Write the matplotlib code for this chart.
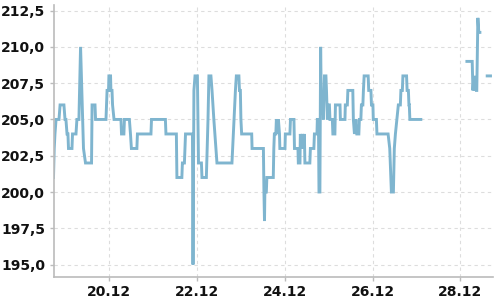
import matplotlib
matplotlib.use("Agg")
import matplotlib.pyplot as plt
import numpy as np
import datetime as dt

# hours since 18.12 00:00, and price values (None = gap in data)
hours = [17.5, 17.9, 18.3, 18.9, 20.5, 21.1, 23.2, 23.8, 24.3, 24.9, 25.4, 25.7,
         27.6, 27.9, 29.8, 30.3, 31.4, 32.3, 33.9, 35.0, 38.3, 38.6, 40.2, 40.5,
         46.2, 46.5, 46.8, 47.6, 47.8, 48.7, 48.9, 49.5, 49.8, 50.6, 54.4, 54.7,
         56.0, 56.3, 59.0, 59.6, 60.1, 63.1, 63.4, 70.8, 71.1, 78.7, 79.0, 84.7,
         85.0, 87.7, 88.0, 89.1, 89.4, 89.7, 93.5, 93.8, 94.3, 94.9, 96.2, 96.8,
         98.4, 98.7, 101.1, 102.0, 102.5, 103.6, 104.2, 105.2, 106.9, 115.1, 117.0, 117.5,
         118.9, 119.2, 119.7, 120.0, 120.4, 125.9, 126.1, 132.3, 132.6, 132.9, 133.1, 133.9,
         134.2, 137.7, 138.0, 138.3, 139.1, 139.4, 140.0, 140.5, 141.1, 141.3, 144.1, 144.3,
         146.8, 147.1, 149.0, 149.3, 151.2, 151.4, 152.3, 152.5, 153.1, 153.6, 154.2, 154.7,
         155.0, 157.7, 158.0, 159.9, 160.2, 161.6, 161.8, 162.4, 162.7, 163.2, 163.6, 164.0,
         164.6, 165.1, 165.7, 166.5, 166.8, 167.3, 167.6, 168.4, 168.7, 170.0, 170.3, 171.4,
         171.7, 174.2, 174.4, 176.9, 177.1, 178.2, 178.5, 181.2, 181.5, 182.1, 182.9, 183.4,
         184.5, 184.8, 185.6, 185.9, 186.7, 187.0, 187.4, 189.6, 189.9, 191.1, 191.4, 192.2,
         192.4, 194.1, 194.4, 200.5, 201.4, 202.3, 203.4, 203.9, 204.5, 205.3, 206.1, 207.2,
         207.5, 208.3, 208.6, 210.6, 210.9, 211.6, 211.9, 212.1, 212.4, 218.4,
         230.0,
         243.6, 246.5, 246.7, 246.9, 247.4, 247.8, 248.3, 248.8, 249.0, 249.6, 250.1, 250.7,
         252.5,
         254.7, 256.5]
values = [201, 203, 204, 205, 205, 206, 206, 205, 205, 204, 204, 203,
          203, 204, 204, 205, 205, 210, 203, 202, 202, 206, 206, 205,
          205, 206, 207, 207, 208, 208, 207, 207, 206, 205, 205, 204,
          204, 205, 205, 204, 203, 203, 204, 204, 205, 205, 204, 204,
          201, 201, 202, 202, 203, 204, 204, 195, 207, 208, 208, 202,
          202, 201, 201, 205, 208, 208, 207, 205, 202, 202, 207, 208,
          208, 207, 207, 205, 204, 204, 203, 203, 200, 198, 200, 200,
          201, 201, 203, 204, 204, 205, 204, 205, 204, 203, 203, 204,
          204, 205, 205, 203, 203, 202, 202, 204, 203, 204, 203, 204,
          202, 202, 203, 203, 204, 204, 205, 205, 200, 200, 210, 206,
          207, 205, 208, 208, 207, 205, 206, 206, 205, 205, 204, 204,
          206, 206, 205, 205, 206, 206, 207, 207, 205, 204, 205, 204,
          204, 205, 205, 206, 206, 207, 208, 208, 207, 207, 206, 206,
          205, 205, 204, 204, 203, 200, 200, 203, 204, 205, 206, 206,
          207, 207, 208, 208, 207, 207, 206, 206, 205, 205,
          None,
          209, 209, 208, 207, 208, 207, 208, 207, 207, 212, 211, 211,
          None,
          208, 208]

y_ticks = [195.0, 197.5, 200.0, 202.5, 205.0, 207.5, 210.0, 212.5]
x_tick_days = [20, 22, 24, 26, 28]

base = dt.datetime(2023, 12, 18)
times = [base + dt.timedelta(hours=h) for h in hours]
vals = np.array([np.nan if v is None else v for v in values], dtype=float)

fig = plt.figure(figsize=(5, 3), dpi=100)
ax = fig.add_axes([0.107, 0.077, 0.878, 0.906])

ax.plot(times, vals, color="#7fb5cf", lw=2.1, solid_joinstyle="miter")

ax.set_ylim(194.15, 212.88)
ax.set_xlim(base + dt.timedelta(hours=17.5), base + dt.timedelta(hours=257.6))
ax.set_yticks(y_ticks)
ax.set_yticklabels([f"{t:.1f}".replace(".", ",") for t in y_ticks])
xt = [dt.datetime(2023, 12, d) for d in x_tick_days]
ax.set_xticks(xt)
ax.set_xticklabels([f"{d}.12" for d in x_tick_days])

ax.grid(True, color="#dddddd", linestyle=(0, (3, 3)), linewidth=0.8)
ax.set_axisbelow(True)
for s in ["top", "right"]:
    ax.spines[s].set_visible(False)
for s in ["left", "bottom"]:
    ax.spines[s].set_color("#bbbbbb")
    ax.spines[s].set_linewidth(1.2)
ax.tick_params(axis="both", colors="#bbbbbb", length=3, width=1,
               labelcolor="#111111", labelsize=10)
ax.tick_params(axis="x", pad=2.5)
ax.tick_params(axis="y", pad=3)
for lab in ax.get_xticklabels() + ax.get_yticklabels():
    lab.set_fontweight("bold")
    lab.set_family("DejaVu Sans")

fig.savefig("out.png", dpi=100)
